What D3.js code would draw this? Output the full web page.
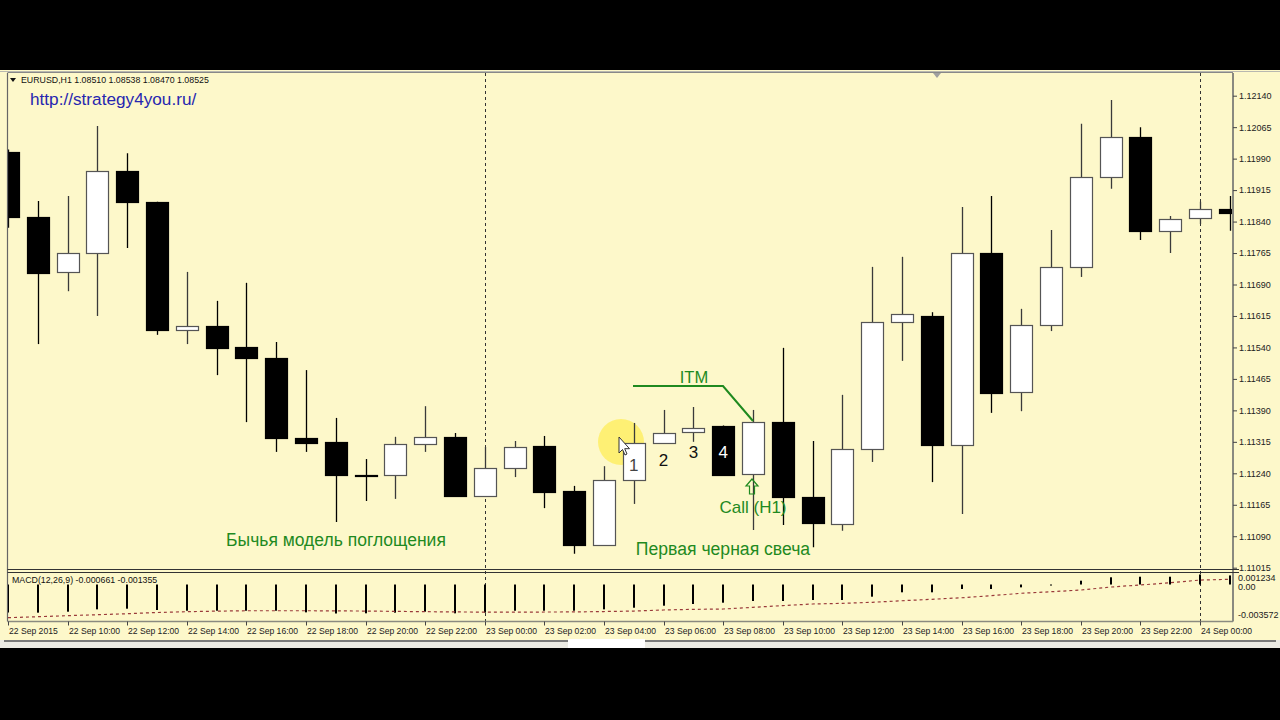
<!DOCTYPE html>
<html><head><meta charset="utf-8">
<script src="https://cdn.jsdelivr.net/npm/d3@7"></script>
<style>html,body{margin:0;padding:0;background:#000;} svg{display:block}</style>
</head><body>
<svg id="c" width="1280" height="720"></svg>
<script>
// ---------- DATA ----------
const times = ["22 Sep 08:00","22 Sep 09:00","22 Sep 10:00","22 Sep 11:00","22 Sep 12:00","22 Sep 13:00","22 Sep 14:00","22 Sep 15:00","22 Sep 16:00","22 Sep 17:00","22 Sep 18:00","22 Sep 19:00","22 Sep 20:00","22 Sep 21:00","22 Sep 22:00","22 Sep 23:00",
"23 Sep 00:00","23 Sep 01:00","23 Sep 02:00","23 Sep 03:00","23 Sep 04:00","23 Sep 05:00","23 Sep 06:00","23 Sep 07:00","23 Sep 08:00","23 Sep 09:00","23 Sep 10:00","23 Sep 11:00","23 Sep 12:00","23 Sep 13:00","23 Sep 14:00","23 Sep 15:00","23 Sep 16:00","23 Sep 17:00","23 Sep 18:00","23 Sep 19:00","23 Sep 20:00","23 Sep 21:00","23 Sep 22:00","23 Sep 23:00",
"24 Sep 00:00","24 Sep 01:00"];
const opens  = [1.12006,1.11851,1.11720,1.11765,1.11961,1.11887,1.11582,1.11591,1.11541,1.11515,1.11324,1.11315,1.11237,1.11236,1.11310,1.11327,1.11186,1.11253,1.11305,1.11198,1.11069,1.11224,1.11312,1.11338,1.11353,1.11238,1.11362,1.11184,1.11119,1.11298,1.11601,1.11615,1.11307,1.11765,1.11434,1.11594,1.11732,1.11946,1.12042,1.11818,1.11849,1.11870];
const highs  = [1.12012,1.11889,1.11901,1.12068,1.12003,1.11887,1.11720,1.11651,1.11694,1.11553,1.11486,1.11372,1.11274,1.11327,1.11400,1.11336,1.11303,1.11317,1.11329,1.11210,1.11257,1.11360,1.11391,1.11398,1.11354,1.11391,1.11539,1.11317,1.11427,1.11732,1.11756,1.11624,1.11875,1.11901,1.11632,1.11820,1.12073,1.12130,1.12065,1.11853,1.11887,1.11901];
const lows   = [1.11825,1.11548,1.11674,1.11615,1.11777,1.11570,1.11548,1.11474,1.11362,1.11291,1.11291,1.11124,1.11174,1.11179,1.11291,1.11184,1.11184,1.11231,1.11157,1.11048,1.11068,1.11167,1.11311,1.11315,1.11235,1.11105,1.11117,1.11064,1.11103,1.11267,1.11508,1.11219,1.11143,1.11384,1.11388,1.11579,1.11708,1.11918,1.11796,1.11765,1.11834,1.11818];
const closes = [1.11851,1.11717,1.11765,1.11961,1.11887,1.11582,1.11591,1.11539,1.11515,1.11324,1.11312,1.11236,1.11236,1.11310,1.11327,1.11186,1.11253,1.11303,1.11195,1.11069,1.11224,1.11312,1.11336,1.11348,1.11236,1.11362,1.11184,1.11122,1.11298,1.11601,1.11620,1.11307,1.11765,1.11431,1.11594,1.11732,1.11946,1.12042,1.11818,1.11846,1.11870,1.11860];
const macdHist = [-0.00345,-0.00347,-0.00335,-0.00306,-0.00298,-0.00314,-0.00323,-0.00323,-0.00323,-0.00323,-0.00343,-0.003572,-0.00355,-0.00347,-0.00335,-0.00355,-0.00347,-0.00323,-0.00323,-0.00323,-0.00306,-0.00286,-0.00261,-0.00240,-0.00224,-0.00203,-0.00203,-0.00191,-0.00191,-0.00150,-0.00096,-0.00096,-0.00055,-0.00055,-0.00035,-0.00012,0.00047,0.00089,0.00096,0.00096,0.001234,0.00112];
const macdSignal = [-0.00409,-0.00397,-0.00384,-0.00372,-0.00360,-0.00345,-0.00335,-0.00328,-0.00323,-0.00323,-0.00323,-0.00325,-0.00327,-0.00331,-0.00335,-0.00338,-0.00340,-0.00340,-0.00339,-0.00338,-0.00333,-0.00327,-0.00314,-0.00306,-0.00302,-0.00281,-0.00260,-0.00240,-0.00232,-0.00219,-0.00200,-0.00182,-0.00163,-0.00138,-0.00108,-0.00089,-0.00068,-0.00031,-0.00006,0.00022,0.00055,0.00064];
const priceTicks = [1.12140,1.12065,1.11990,1.11915,1.11840,1.11765,1.11690,1.11615,1.11540,1.11465,1.11390,1.11315,1.11240,1.11165,1.11090,1.11015];
const tickTimes = ["22 Sep 08:00","22 Sep 10:00","22 Sep 12:00","22 Sep 14:00","22 Sep 16:00","22 Sep 18:00","22 Sep 20:00","22 Sep 22:00","23 Sep 00:00","23 Sep 02:00","23 Sep 04:00","23 Sep 06:00","23 Sep 08:00","23 Sep 10:00","23 Sep 12:00","23 Sep 14:00","23 Sep 16:00","23 Sep 18:00","23 Sep 20:00","23 Sep 22:00","24 Sep 00:00"];
const tickLabels = ["22 Sep 2015","22 Sep 10:00","22 Sep 12:00","22 Sep 14:00","22 Sep 16:00","22 Sep 18:00","22 Sep 20:00","22 Sep 22:00","23 Sep 00:00","23 Sep 02:00","23 Sep 04:00","23 Sep 06:00","23 Sep 08:00","23 Sep 10:00","23 Sep 12:00","23 Sep 14:00","23 Sep 16:00","23 Sep 18:00","23 Sep 20:00","23 Sep 22:00","24 Sep 00:00"];
const macdTicks = [0.001234, 0, -0.003572];
const macdTickLabels = ["0.001234","0.00","-0.003572"];
const separators = ["23 Sep 00:00","24 Sep 00:00"];

// ---------- LAYOUT ----------
const BG = "#FDF8CA";
const L = 7.5, R = 1233, T = 73, MB = 569.5, MT = 572.5, MBOT = 621.5;
const svg = d3.select("#c");
const FONT = "'Liberation Sans', Arial, sans-serif";

const x = d3.scalePoint().domain(times).range([8, 1229.8]);
const y = d3.scaleLinear().domain([1.11015, 1.12140]).range([567.7, 95.7]);
const ym = d3.scaleLinear().domain([-0.003572, 0.001234]).range([613.5, 574.5]);

const data = times.map((t,i)=>({t, o:opens[i], h:highs[i], l:lows[i], c:closes[i], m:macdHist[i], s:macdSignal[i]}));

// window background
svg.append("rect").attr("x",0).attr("y",70).attr("width",1280).attr("height",578).attr("fill",BG);
svg.append("line").attr("x1",0).attr("x2",1280).attr("y1",71.5).attr("y2",71.5).attr("stroke","#b8b8b0");
svg.append("rect").attr("x",0).attr("y",640).attr("width",1280).attr("height",8).attr("fill","#ecebe4");
svg.append("line").attr("x1",4).attr("x2",1276).attr("y1",641).attr("y2",641).attr("stroke","#7a7a7a").attr("stroke-width",2);
svg.append("rect").attr("x",568).attr("y",639).attr("width",77).attr("height",9).attr("fill","#ffffff");

// clip
const defs = svg.append("defs");
defs.append("clipPath").attr("id","mainclip").append("rect").attr("x",L+0.5).attr("y",T).attr("width",R-L-1.5).attr("height",MB-T-1);
defs.append("clipPath").attr("id","macdclip").append("rect").attr("x",L+0.5).attr("y",MT+0.5).attr("width",R-L-1.5).attr("height",MBOT-MT-1);

// separators (dashed verticals)
svg.append("g").selectAll("line").data(separators).join("line")
  .attr("x1",d=>Math.round(x(d))+0.5).attr("x2",d=>Math.round(x(d))+0.5)
  .attr("y1",T).attr("y2",MBOT)
  .attr("stroke","#333").attr("stroke-dasharray","3,3").attr("stroke-width",1);

// shift marker
svg.append("path").attr("d","M933,73 L941,73 L937,78 Z").attr("fill","#a0a0a0");

// cursor highlight (behind candles)
svg.append("circle").attr("cx",621).attr("cy",442).attr("r",23).attr("fill","#FFEB3B").attr("opacity",0.6);

// candles
const gMain = svg.append("g").attr("clip-path","url(#mainclip)");
const cg = gMain.selectAll("g.c").data(data).join("g");
cg.append("line")
  .attr("x1",d=>Math.round(x(d.t))+0.5).attr("x2",d=>Math.round(x(d.t))+0.5)
  .attr("y1",d=>y(d.h)).attr("y2",d=>y(d.l))
  .attr("stroke",d=>d.c>=d.o?"#3a3a3a":"#000").attr("stroke-width",1.3);
const BW = 22;
cg.append("rect")
  .attr("x",d=>Math.round(x(d.t)-BW/2)+0.5)
  .attr("y",d=>Math.round(y(Math.max(d.o,d.c)))+0.5)
  .attr("width",BW)
  .attr("height",d=>Math.max(1,Math.round(Math.abs(y(d.o)-y(d.c)))))
  .attr("fill",d=>d.c>=d.o?"#ffffff":"#000000")
  .attr("stroke",d=>d.c>=d.o?"#555":"#000").attr("stroke-width",1.2);

// frame lines
svg.append("line").attr("x1",L).attr("x2",L).attr("y1",T).attr("y2",MBOT).attr("stroke","#666").attr("stroke-width",1.2);
svg.append("line").attr("x1",L).attr("x2",R).attr("y1",T-0.5).attr("y2",T-0.5).attr("stroke","#888");
svg.append("line").attr("x1",R).attr("x2",R).attr("y1",T).attr("y2",MBOT).attr("stroke","#8a8a80").attr("stroke-width",2);
svg.append("line").attr("x1",L).attr("x2",R+6).attr("y1",MB).attr("y2",MB).attr("stroke","#333").attr("stroke-width",1.2);
svg.append("line").attr("x1",L).attr("x2",R+6).attr("y1",MT).attr("y2",MT).attr("stroke","#333").attr("stroke-width",1.2);
svg.append("line").attr("x1",L).attr("x2",R).attr("y1",MBOT).attr("y2",MBOT).attr("stroke","#8a8a80").attr("stroke-width",1.5);

// price axis
const pa = svg.append("g").attr("transform",`translate(${R},0)`);
pa.append("g")
  .call(d3.axisRight(y).tickValues(priceTicks).tickSize(4).tickPadding(2).tickFormat(d3.format(".5f")))
  .call(g=>g.select(".domain").remove())
  .call(g=>g.selectAll("line").attr("stroke","#444"))
  .call(g=>g.selectAll("text").attr("font-family",FONT).attr("font-size","9px").attr("fill","#222"));

// macd axis labels
const ma = svg.append("g").attr("transform",`translate(${R},0)`);
ma.selectAll("text").data(macdTicks).join("text")
  .attr("x",5).attr("y",(d,i)=> i===0 ? ym(d)+6 : (i===1? ym(d)+5 : ym(d)+4))
  .attr("font-family",FONT).attr("font-size","9px").attr("fill","#222")
  .text((d,i)=>macdTickLabels[i]);

// MACD histogram & signal
const gM = svg.append("g").attr("clip-path","url(#macdclip)");
gM.selectAll("rect").data(data).join("rect")
  .attr("x",d=>Math.round(x(d.t))-1).attr("width",2)
  .attr("y",d=>Math.min(ym(0),ym(d.m))).attr("height",d=>Math.max(1,Math.abs(ym(d.m)-ym(0))))
  .attr("fill","#000");
gM.append("path").datum(data)
  .attr("d",d3.line().x(d=>x(d.t)).y(d=>ym(d.s)))
  .attr("fill","none").attr("stroke","#9a3a3a").attr("stroke-width",1.2).attr("stroke-dasharray","3,3");

// time axis
const ta = svg.append("g").attr("transform",`translate(0,${MBOT})`);
ta.selectAll("line").data(tickTimes).join("line")
  .attr("x1",d=>Math.round(x(d))+0.5).attr("x2",d=>Math.round(x(d))+0.5).attr("y1",0).attr("y2",4)
  .attr("stroke","#444");
ta.selectAll("text").data(tickTimes).join("text")
  .attr("x",d=>Math.round(x(d))+1).attr("y",12)
  .attr("font-family",FONT).attr("font-size","8.6px").attr("fill","#222")
  .text((d,i)=>tickLabels[i]);

// headers
svg.append("path").attr("d","M10,78 L16,78 L13,82 Z").attr("fill","#111");
svg.append("text").attr("x",21).attr("y",83).attr("font-family",FONT).attr("font-size","8.8px").attr("fill","#111")
  .text("EURUSD,H1  1.08510 1.08538 1.08470 1.08525");
svg.append("text").attr("x",12).attr("y",583).attr("font-family",FONT).attr("font-size","8.8px").attr("fill","#111")
  .text("MACD(12,26,9) -0.000661 -0.001355");
svg.append("text").attr("x",30).attr("y",105).attr("font-family",FONT).attr("font-size","17.2px").attr("fill","#2626b0")
  .text("http://strategy4you.ru/");

// annotations
const GREEN = "#1f8a1f";
const ann = svg.append("g").attr("font-family",FONT);
ann.append("text").attr("x",336).attr("y",546).attr("text-anchor","middle").attr("font-size","17.5px").attr("fill",GREEN).text("Бычья модель поглощения");
ann.append("text").attr("x",723).attr("y",555).attr("text-anchor","middle").attr("font-size","17.6px").attr("fill",GREEN).text("Первая черная свеча");
ann.append("text").attr("x",753).attr("y",513).attr("text-anchor","middle").attr("font-size","17px").attr("fill",GREEN).text("Call (H1)");
ann.append("text").attr("x",694).attr("y",383).attr("text-anchor","middle").attr("font-size","16.5px").attr("fill",GREEN).text("ITM");
ann.append("path").attr("d","M633,386 L723,386 L753,421").attr("fill","none").attr("stroke",GREEN).attr("stroke-width",2);
ann.append("path").attr("d","M752,479 L758,486 L754.5,486 L754.5,494 L749.5,494 L749.5,486 L746,486 Z")
  .attr("fill","none").attr("stroke",GREEN).attr("stroke-width",1.2);
// numbers
const nums = [["1","23 Sep 05:00",471,"#444"],["2","23 Sep 06:00",466,"#111"],["3","23 Sep 07:00",458,"#111"],["4","23 Sep 08:00",458,"#fff"]];
ann.selectAll("text.n").data(nums).join("text").attr("class","n")
  .attr("x",d=>x(d[1])).attr("y",d=>d[2]).attr("text-anchor","middle").attr("font-size","17px").attr("fill",d=>d[3]).text(d=>d[0]);

// mouse pointer
svg.append("path").attr("d","M619,437 L619,453 L622.5,449.5 L625,455 L627,454 L624.7,448.7 L629.5,448.7 Z")
  .attr("fill","#fff").attr("stroke","#333").attr("stroke-width",1);
</script>
</body></html>
